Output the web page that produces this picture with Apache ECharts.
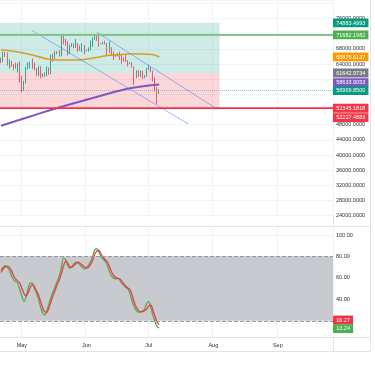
<!DOCTYPE html>
<html><head><meta charset="utf-8">
<script src="https://cdn.jsdelivr.net/npm/echarts@6/dist/echarts.min.js"></script>
<style>html,body{margin:0;padding:0;background:#fff}#c{width:375px;height:366px}</style>
</head><body><div id="c"></div>
<script>
// ---------- data ----------
const startDate = [2024, 3, 21];     // 2024-04-21 (month 0-based)
const dayCount = 160;                // categories through late September
const monthNames = ['Jan','Feb','Mar','Apr','May','Jun','Jul','Aug','Sep','Oct','Nov','Dec'];

// daily candles from 2024-04-21: [open, high, low, close]
const ohlc = [
[64960,65690,64240,64930],[64930,67200,64500,66840],[66840,67200,65850,66400],[66400,67070,63600,64290],
[64290,65280,62800,64500],[64500,64800,63300,63760],[63760,63910,62400,63420],[63420,64360,62800,63110],
[63110,64230,61800,63840],[63840,64730,59120,60640],[60640,60800,56550,58250],[58250,59600,56940,59120],
[59120,63320,58850,62890],[62890,64490,62600,63890],[63890,64630,62850,64030],[64030,65500,62700,63160],
[63160,64400,62320,62330],[62330,62990,60900,61190],[61190,63420,60750,63070],[63070,63440,60200,60790],
[60790,61480,60500,60820],[60820,61830,60630,61480],[61480,63430,60750,62940],[62940,63100,61150,61580],
[61580,66450,61350,66270],[66270,66700,64600,65230],[65230,67450,65100,67050],[67050,67400,66600,66940],
[66940,67700,65900,66280],[66280,71500,66100,71450],[71450,71950,69200,70140],[70140,70650,68850,69120],
[69120,70050,66300,67930],[67930,69200,66650,68530],[68530,69500,68500,69280],[69280,69500,68200,68500],
[68500,70600,68250,69400],[69400,69550,67200,68350],[68350,68900,67500,67600],[67600,69500,67150,68360],
[68360,69000,66650,67500],[67500,67850,67400,67750],[67750,68400,67300,67780],[67780,70200,67620,68810],
[68810,71050,68550,70570],[70570,71750,70400,71080],[71080,71600,70150,70790],[70790,71950,68550,69350],
[69350,69550,69250,69310],[69310,69850,69150,69650],[69650,70150,69200,69500],[69500,69550,66100,67330],
[67330,69950,66900,68250],[68250,68450,66300,66760],[66760,67300,65100,66010],[66010,66400,65900,66190],
[66190,66950,66050,66640],[66640,67250,65100,66490],[66490,66500,64100,65150],[65150,65700,64700,64960],
[64960,66450,64550,64830],[64830,65050,63400,64100],[64100,64500,63950,64250],[64250,64500,63100,63180],
[63180,63370,58400,60270],[60270,62350,60250,61800],[61800,62450,60650,60860],[60860,62300,60600,61670],
[61670,62200,60100,60320],[60320,61100,60300,60880],[60880,63000,60700,62680],[62680,63800,62400,62760],
[62760,63200,61800,62030],[62030,62250,59450,60150],[60150,60450,56800,57050],[57050,58000,53500,56660],
[56660,57400,56100,56970]
];

const maOrange = [['2024-04-21',67710],['2024-04-25',67525],['2024-04-30',67103],['2024-05-06',66390],
  ['2024-05-14',65256],['2024-05-19',65071],['2024-05-29',65150],['2024-06-08',65942],['2024-06-12',66311],
  ['2024-06-17',66469],['2024-06-23',66733],['2024-07-01',66575],['2024-07-04',66350],['2024-07-06',65875.6137]];
const maPurple = [['2024-04-21',47738],['2024-05-05',50165],['2024-05-18',52408],['2024-06-08',55657],
  ['2024-06-22',57604],['2024-07-06',58633.9053]];
const channelUpper = [['2024-06-06',72380],['2024-08-02',52408]];
const channelLower = [['2024-05-06',72802],['2024-07-20',48185]];

const zoneTop = 74883.4993, zoneMid = 61642.9734, zoneLow = 52345.1818;
const zoneEnd = '2024-08-04';
const greenLevel = 71682.1982;
const redLevel2 = 52227.4883;
const lastPrice = 56969.85;

const priceTicks = [24000,28000,32000,36000,40000,44000,48000,64000,68000,76000];
const priceBoxes = [
  {v: 74883.4993, c: 'teal'}, {v: 71682.1982, c: 'green'}, {v: 65875.6137, c: 'orange'},
  {v: 61642.9734, c: 'gray'}, {v: 58633.9053, c: 'purple'}, {v: 56969.85, c: 'teal'},
  {v: 52345.1818, c: 'red'}, {v: 52227.4883, c: 'red'}
];

const rsiGreen = [67,70,71.5,70,67.5,62,58.5,56.5,55,49,43,38,42,50,55,55,50,46,40,33,27,25.5,29,36,42,47,52,57,62,70,
  78.4,77,71.5,69,70.5,73,74.7,74,72,70,68.5,69.5,72,75,80,86,87.2,84,80,77.5,75.5,72,66,62,60,59,59.5,58,55,53,
  51,49.5,45,38,33,29.5,28,28,29,31,36,37.9,32,25,19,14.5,13.24];
const rsiRed = [65,68.5,70.5,70.8,69.8,67,62,59,57,55.5,50,45.5,43,46,51,53.8,52,48,44,38,32,28.5,27.9,32,38,43.6,48.5,54,58,64,
  71,75.5,74,70.5,70,71.5,73.5,74.7,73.5,72,70.5,69.3,70,72.5,76.5,82,85,85.6,82.5,79.3,77,75.3,71,66,62.5,60.5,59.5,59.2,57,54.5,
  52.2,50.5,49,44,37,32.6,29.5,28.6,28.6,29.5,31,34,34.5,29.5,24,18.6,16.27];
const rsiBandHigh = 80, rsiBandLow = 20;
const rsiTicks = [40,60,80,100];
const rsiGrid = [20,40,60,80,100];

// ---------- layout / style ----------
const W = 375, H = 366;
const plotRight = 333, axisRight = 370;
const mainTop = 0, mainH = 215.66, pMin = 24000, pMax = 80902;
const rsiTop = 227, rsiBottom = 337, rMin = 4.85, rMax = 107.5;
const sep = 226.5, timeBottom = 351.5;
const col = {teal:'#089981', green:'#4caf50', orange:'#ff9800', gray:'#787b86', purple:'#7e57c2', red:'#f23645'};
const priceNudgePx = {4: -1.7, 7: 9};   // label collision offsets (px)
const rsiNudgePx = {0: -4.8, 1: 0.6};
const gridCol = '#f0f3fa', frameCol = '#e0e3eb', textCol = '#2a2e39';
const font = 'Liberation Sans, Arial, sans-serif';

// ---------- build ----------
const cats = [];
const d0 = Date.UTC(startDate[0], startDate[1], startDate[2]);
for (let i = 0; i < dayCount; i++) cats.push(new Date(d0 + i * 864e5).toISOString().slice(0, 10));
const candleData = ohlc.map(r => [r[0], r[3], r[2], r[1]]);
const isMonthStart = (i, v) => v.slice(8) === '01';
const key = v => Math.round(v * 100);

const pPerPx = (pMax - pMin) / mainH;
const priceLabelMap = {};
priceTicks.forEach(v => { priceLabelMap[key(v)] = '{t|' + v.toFixed(4) + '}'; });
const priceLabelVals = priceTicks.slice();
priceBoxes.forEach((b, i) => {
  const at = b.v - (priceNudgePx[i] || 0) * pPerPx;
  priceLabelVals.push(at);
  priceLabelMap[key(at)] = '{' + b.c + '|' + b.v.toFixed(4) + '}';
});
const rPerPx = (rMax - rMin) / (rsiBottom - rsiTop);
const rsiBoxes = [{v: rsiRed[rsiRed.length-1], c:'red'}, {v: rsiGreen[rsiGreen.length-1], c:'green'}];
const rsiLabelMap = {};
rsiTicks.forEach(v => { rsiLabelMap[key(v)] = '{t|' + v.toFixed(2) + '}'; });
const rsiLabelVals = rsiTicks.slice();
rsiBoxes.forEach((b, i) => {
  const at = b.v - (rsiNudgePx[i] || 0) * rPerPx;
  rsiLabelVals.push(at);
  rsiLabelMap[key(at)] = '{' + b.c + '|' + b.v.toFixed(2) + '}';
});

const rich = { t: {color: textCol, fontSize: 5.5, padding: [0, 3], fontFamily: font} };
Object.keys(col).forEach(k => {
  rich[k] = {backgroundColor: col[k], color: '#fff', fontSize: 5.5, padding: [1.6, 3.2, 1.2, 3.2], fontFamily: font, lineHeight: 6};
});

const chart = echarts.init(document.getElementById('c'), null, {renderer: 'canvas'});
const hLine = (y, color, width, type) => ({yAxis: y, lineStyle: {color, width, type: type || 'solid'}});

chart.setOption({
  animation: false,
  backgroundColor: '#fff',
  textStyle: {fontFamily: font},
  grid: [
    {left: 0, right: W - plotRight, top: mainTop, height: mainH},
    {left: 0, right: W - plotRight, top: rsiTop, height: rsiBottom - rsiTop}
  ],
  xAxis: [
    {gridIndex: 0, type: 'category', data: cats, boundaryGap: true,
      axisLine: {show: false}, axisTick: {show: false}, axisLabel: {show: false},
      splitLine: {show: true, interval: isMonthStart, lineStyle: {color: gridCol}}},
    {gridIndex: 1, type: 'category', data: cats, boundaryGap: true,
      axisLine: {show: true, lineStyle: {color: frameCol}}, axisTick: {show: false},
      axisLabel: {interval: isMonthStart, formatter: v => monthNames[+v.slice(5, 7) - 1],
        fontSize: 5.5, color: textCol, margin: 5},
      splitLine: {show: true, interval: isMonthStart, lineStyle: {color: gridCol}}}
  ],
  yAxis: [
    {gridIndex: 0, type: 'value', position: 'right', min: pMin, max: pMax, interval: 4000,
      axisLine: {show: false}, axisTick: {show: false},
      splitLine: {lineStyle: {color: gridCol}},
      axisLabel: {customValues: priceLabelVals, margin: 0, align: 'left', rich, hideOverlap: false,
        formatter: v => priceLabelMap[key(v)] || ''}},
    {gridIndex: 1, type: 'value', position: 'right', min: rMin, max: rMax,
      axisLine: {show: false}, axisTick: {show: false, customValues: rsiGrid},
      splitLine: {lineStyle: {color: gridCol}},
      axisLabel: {customValues: rsiLabelVals, margin: 0, align: 'left', rich, hideOverlap: false,
        formatter: v => rsiLabelMap[key(v)] || ''}}
  ],
  series: [
    {type: 'candlestick', xAxisIndex: 0, yAxisIndex: 0, data: candleData, barWidth: 0.9,
      itemStyle: {color: col.teal, color0: col.red, borderColor: col.teal, borderColor0: col.red, borderWidth: 0.8},
      markArea: {silent: true, data: [
        [{yAxis: zoneMid, itemStyle: {color: 'rgba(8,153,129,0.2)'}}, {xAxis: zoneEnd, yAxis: zoneTop}],
        [{yAxis: zoneLow, itemStyle: {color: 'rgba(242,54,69,0.2)'}}, {xAxis: zoneEnd, yAxis: zoneMid}]
      ]},
      markLine: {silent: true, symbol: 'none', label: {show: false}, data: [
        hLine(lastPrice, 'rgba(8,153,129,0.45)', 1, 'dotted'),
        hLine(greenLevel, '#81c784', 2),
        hLine(redLevel2, col.red, 1),
        hLine(zoneLow, col.red, 1.5)
      ]}},
    {type: 'line', xAxisIndex: 0, yAxisIndex: 0, data: maOrange, smooth: 0.4, showSymbol: false,
      lineStyle: {color: '#d89e28', width: 1.6}},
    {type: 'line', xAxisIndex: 0, yAxisIndex: 0, data: maPurple, smooth: 0.4, showSymbol: false,
      lineStyle: {color: col.purple, width: 2}},
    {type: 'line', xAxisIndex: 0, yAxisIndex: 0, data: channelUpper, showSymbol: false,
      lineStyle: {color: 'rgba(41,98,255,0.45)', width: 1}},
    {type: 'line', xAxisIndex: 0, yAxisIndex: 0, data: channelLower, showSymbol: false,
      lineStyle: {color: 'rgba(41,98,255,0.45)', width: 1}},
    {type: 'line', xAxisIndex: 1, yAxisIndex: 1, data: rsiGreen, smooth: 0.3, showSymbol: false,
      lineStyle: {color: col.green, width: 1.3},
      markArea: {silent: true, itemStyle: {color: '#c9cacf'}, data: [[{yAxis: rsiBandLow}, {yAxis: rsiBandHigh}]]},
      markLine: {silent: true, symbol: 'none', label: {show: false}, data: [
        hLine(rsiBandHigh, '#9598a1', 1, 'dashed'), hLine(rsiBandLow, '#9598a1', 1, 'dashed')
      ]}},
    {type: 'line', xAxisIndex: 1, yAxisIndex: 1, data: rsiRed, smooth: 0.3, showSymbol: false,
      lineStyle: {color: col.red, width: 1.3}}
  ],
  graphic: [
    {type: 'line', silent: true, z: -1, shape: {x1: plotRight + 0.5, y1: 0, x2: plotRight + 0.5, y2: timeBottom}, style: {stroke: frameCol}},
    {type: 'line', silent: true, z: -1, shape: {x1: axisRight + 0.5, y1: 0, x2: axisRight + 0.5, y2: timeBottom}, style: {stroke: frameCol}},
    {type: 'line', silent: true, z: -1, shape: {x1: 0, y1: sep, x2: axisRight, y2: sep}, style: {stroke: frameCol}},
    {type: 'line', silent: true, z: -1, shape: {x1: 0, y1: rsiBottom + 0.5, x2: axisRight, y2: rsiBottom + 0.5}, style: {stroke: frameCol}},
    {type: 'line', silent: true, z: -1, shape: {x1: 0, y1: timeBottom, x2: axisRight, y2: timeBottom}, style: {stroke: frameCol}}
  ]
});
</script></body></html>
